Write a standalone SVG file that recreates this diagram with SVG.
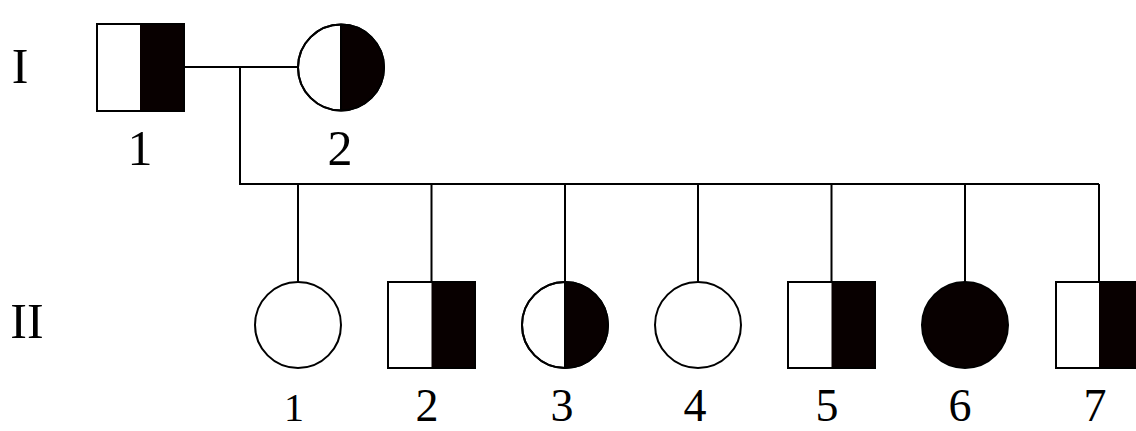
<svg xmlns="http://www.w3.org/2000/svg" width="1136" height="431" viewBox="0 0 1136 431">
<style>
.ln{stroke:#000;stroke-width:2;fill:none}
.sh{stroke:#000;stroke-width:2;fill:#fff}
.blk{fill:#080000;stroke:none}
.t{font-family:"Liberation Serif","Times New Roman",serif;fill:#000;text-anchor:middle}
.n2{font-size:46px}
</style>
<rect width="1136" height="431" fill="#fff"/>
<g id="connectors">
<path class="ln" d="M184 67H298M240 67V184H1099M298 184V282M431.5 184V282M565 184V282M698 184V282M831.5 184V282M965 184V282M1099 184V282"/>
</g>
<g id="gen-labels">
<text class="t" x="20" y="83" font-size="50">I</text>
<text class="t" x="27" y="338" font-size="50">II</text>
</g>
<g id="I-1">
<rect class="sh" x="97" y="24" width="87" height="87"/>
<rect class="blk" x="140" y="24" width="44" height="87"/>
<rect class="ln" x="97" y="24" width="87" height="87"/>
<text class="t" x="140" y="165" font-size="50">1</text>
</g>
<g id="I-2">
<circle class="sh" cx="341" cy="67.5" r="43"/>
<path class="blk" d="M341 24.5A43 43 0 0 1 341 110.5Z"/>
<circle class="ln" cx="341" cy="67.5" r="43"/>
<path class="ln" d="M341 24.5V110.5"/>
<text class="t" x="340" y="165" font-size="50">2</text>
</g>
<g id="II-1">
<circle class="sh" cx="298" cy="325" r="43"/>
<text class="t" x="294" y="421" font-size="40">1</text>
</g>
<g id="II-2">
<rect class="sh" x="388" y="282" width="87" height="86"/>
<rect class="blk" x="431.5" y="282" width="43.5" height="86"/>
<rect class="ln" x="388" y="282" width="87" height="86"/>
<text class="t n2" x="427" y="421">2</text>
</g>
<g id="II-3">
<circle class="sh" cx="565" cy="325" r="43"/>
<path class="blk" d="M565 282A43 43 0 0 1 565 368Z"/>
<circle class="ln" cx="565" cy="325" r="43"/>
<path class="ln" d="M565 282V368"/>
<text class="t n2" x="562" y="421">3</text>
</g>
<g id="II-4">
<circle class="sh" cx="698" cy="325" r="43"/>
<text class="t n2" x="695" y="421">4</text>
</g>
<g id="II-5">
<rect class="sh" x="788" y="282" width="87" height="86"/>
<rect class="blk" x="831.5" y="282" width="43.5" height="86"/>
<rect class="ln" x="788" y="282" width="87" height="86"/>
<text class="t n2" x="827" y="421">5</text>
</g>
<g id="II-6">
<circle cx="965" cy="325" r="43" fill="#080000" stroke="#000" stroke-width="2"/>
<text class="t n2" x="960" y="421">6</text>
</g>
<g id="II-7">
<rect class="sh" x="1056" y="282" width="87" height="86"/>
<rect class="blk" x="1099" y="282" width="44" height="86"/>
<rect class="ln" x="1056" y="282" width="87" height="86"/>
<text class="t n2" x="1095" y="421">7</text>
</g>
</svg>
